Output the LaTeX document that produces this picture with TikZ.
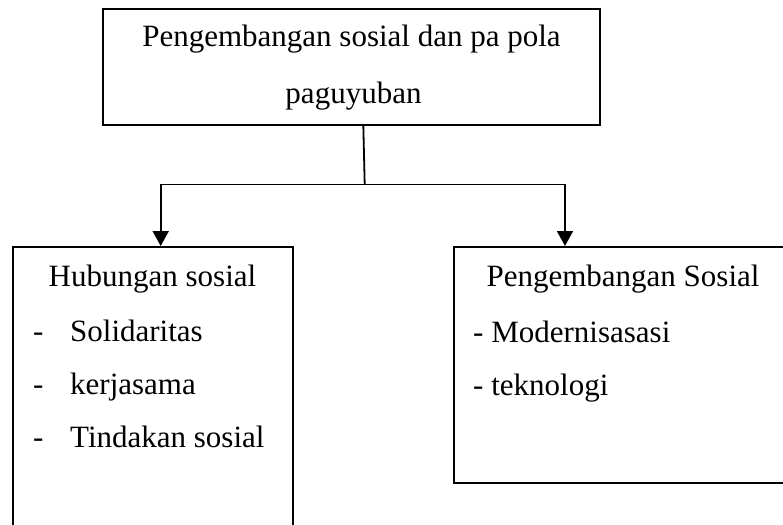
\documentclass[tikz,border=0pt]{standalone}
\usepackage{fontspec}
\setmainfont{Liberation Serif}
\usetikzlibrary{arrows.meta}

\tikzset{
  kotak/.style={draw,line width=2pt,inner sep=0pt},
  teks/.style={inner sep=0pt,font=\fontsize{31pt}{53pt}\selectfont},
  panah/.style={line width=1.8pt,-{Triangle[length=15pt,width=16pt]}}
}

\begin{document}
\begin{tikzpicture}[x=1pt,y=-1pt]
          \useasboundingbox (0,0) rectangle (783,524);
          \clip (0,0) rectangle (783,524);
          \node[kotak,minimum width=497pt,minimum height=116pt] (atas) at (351.5,67) {};
          \node[kotak,anchor=north,minimum width=280pt,minimum height=320pt] (kiri) at (153,246) {};
          \node[kotak,anchor=north west,minimum width=400pt,minimum height=236pt] (kanan) at (453,246) {};
          \node[teks,anchor=base] (judul1) at (351.5,47) {Pengembangan sosial dan pa pola};
          \node[teks,anchor=base] (judul2) at (353.5,103) {paguyuban};
          \node[teks,anchor=base] (hubungan) at (152.5,286) {Hubungan sosial};
          \node[teks,anchor=base west] (solidaritas) at (33,341) {\makebox[37pt][l]{-}Solidaritas};
          \node[teks,anchor=base west] (kerjasama) at (33,394) {\makebox[37pt][l]{-}kerjasama};
          \node[teks,anchor=base west] (tindakan) at (33,447) {\makebox[37pt][l]{-}Tindakan sosial};
          \node[teks,anchor=base] (pengembangan) at (623,286) {Pengembangan Sosial};
          \node[teks,anchor=base west] (modern) at (473,342) {- Modernisasasi};
          \node[teks,anchor=base west] (teknologi) at (473,395) {- teknologi};
          \coordinate (pangkal) at (363.3,125);
          \coordinate (cabang) at (364.7,184.5);
          \coordinate (ujungkiri) at (160.7,246);
          \coordinate (ujungkanan) at (565,246);
          \draw[line width=1.8pt] (pangkal) -- (cabang);
          \draw[panah] (cabang) -| (ujungkiri);
          \draw[panah] (cabang) -| (ujungkanan);
        \end{tikzpicture}
\end{document}
